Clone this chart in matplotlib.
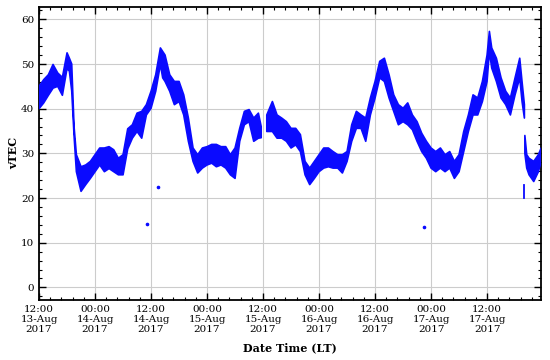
import datetime as dt
import numpy as np
import matplotlib
matplotlib.use("Agg")
import matplotlib.pyplot as plt
import matplotlib.dates as mdates
from matplotlib.ticker import AutoMinorLocator, MultipleLocator

# hours after 13-Aug-2017 12:00 LT, with the band's upper / lower edge
hours = [0, 1, 2, 3, 4, 5, 6, 6.5, 7, 7.5, 8, 9, 10, 11, 12, 13, 14, 15, 16, 17,
         18, 19, 20, 21, 22, 23, 24, 25, 26, 26.5, 27, 28, 29, 30, 31, 32, 33, 34, 35, 36,
         37, 38, 39, 40, 41, 42, 43, 44, 45, 46, 47, 47.6, 47.7, 48.7, 48.8, 50, 51, 52, 53, 54,
         55, 56, 57, 58, 59, 60, 61, 62, 63, 64, 65, 66, 67, 68, 69, 70, 71, 72, 73, 74,
         75, 76, 77, 78, 79, 80, 81, 82, 83, 84, 85, 86, 87, 88, 89, 90, 91, 92, 93, 94,
         95, 96, 96.5, 97, 98, 99, 100, 101, 102, 103, 103.5, 104, 104.05, 104.1, 104.5, 105, 106, 107, 107.6]
vtec_hi = [45, 46.5, 47.6, 49.9, 48, 47, 52.5, 51.3, 50, 36, 29.7, 27, 27.4, 28.2, 29.7, 31.2, 31.2, 31.5, 30.8, 28.9,
           29.7, 35.5, 36.4, 39, 39.4, 40.9, 43.9, 47.6, 53.6, 52.8, 52, 47.6, 46.1, 46.1, 43.1, 37.9, 31.2, 29.7, 31.2, 31.5,
           32, 32, 31.5, 31.5, 29.7, 31.2, 35.6, 39.4, 39.8, 37.9, 39, 36, np.nan, np.nan, 38.6, 41.6, 38.6, 37.9, 37.1, 35.6,
           35.6, 34.2, 28.2, 26.7, 28.2, 29.7, 31.2, 31.2, 30.4, 29.7, 29.7, 30.4, 36.4, 39.4, 38.6, 37.9, 42.4, 46.1, 50.6, 51.3,
           47.6, 43.1, 40.9, 40.1, 41.3, 38.6, 37.1, 34.5, 32.7, 31.2, 30.4, 31.2, 29.7, 30.4, 28.2, 29.7, 34.9, 38.6, 43.1, 42.4,
           46.1, 52, 57.3, 53.6, 51.3, 46.9, 43.9, 42.4, 46.9, 51.3, 46, 40.9, np.nan, 34, 29.7, 28.9, 28.2, 29.7, 31.2]
vtec_lo = [40, 41.3, 43, 44.6, 45, 43, 49, 48.4, 44, 34, 25.9, 21.5, 23, 24.4, 25.9, 27.4, 25.9, 26.6, 25.9, 25.2,
           25.2, 31, 33.4, 34.9, 33.4, 38.6, 40.1, 43.9, 49.9, 46.9, 46.1, 43.9, 40.9, 41.6, 38.6, 32.7, 28.2, 25.6, 26.7, 27.4,
           27.8, 27, 27.4, 26.7, 25.2, 24.4, 32.7, 36.4, 37.1, 32.7, 33.4, 33.5, np.nan, np.nan, 34.9, 34.9, 33.4, 33.4, 32.7, 31.2,
           31.9, 30.4, 25.2, 23, 24.4, 25.9, 26.7, 27, 26.7, 26.7, 25.6, 28.2, 32.7, 35.6, 35.6, 32.7, 38.6, 42.4, 46.9, 46.1,
           42.4, 39.4, 36.4, 37.1, 36.4, 35.3, 32.7, 30.4, 28.9, 26.7, 25.9, 26.7, 25.9, 26.7, 24.4, 25.9, 30.4, 34.9, 38.6, 38.6,
           41.6, 46.1, 52.8, 49.1, 46.1, 42.4, 40.9, 38.6, 43.1, 46.9, 41.6, 37.9, np.nan, 30, 26.7, 25.2, 23.7, 25.9, 28.2]

# stray low samples
outlier_hours = [23.08, 25.57, 82.4]
outlier_vtec = [14.1, 22.4, 13.45]
spike_hours = [103.9, 103.9]
spike_vtec = [20.0, 22.9]

t0 = dt.datetime(2017, 8, 13, 12, 0)
to_time = lambda hs: [t0 + dt.timedelta(hours=h) for h in hs]
t = to_time(hours)

plt.rcParams['font.family'] = 'DejaVu Serif'
plt.rcParams['font.size'] = 7.5

fig = plt.figure(figsize=(5.5, 3.6), dpi=100)
ax = fig.add_axes([0.071, 0.167, 0.913, 0.814])

blue = '#0a0aff'
ax.fill_between(t, vtec_lo, vtec_hi, color=blue, linewidth=1.2, edgecolor=blue, zorder=3)
ax.plot(to_time(outlier_hours), outlier_vtec, 'o', color=blue, ms=1.6, zorder=3)
ax.plot(to_time(spike_hours), spike_vtec, '-', color=blue, lw=1.3, zorder=3)

ax.set_xlim(t0, t0 + dt.timedelta(hours=107.6))
ax.set_ylim(-2.8, 62.8)

ax.xaxis.set_major_locator(mdates.HourLocator(byhour=[0, 12]))
ax.xaxis.set_major_formatter(mdates.DateFormatter('%H:%M\n%d-%b\n%Y'))
ax.xaxis.set_minor_locator(AutoMinorLocator())
ax.yaxis.set_major_locator(MultipleLocator(10))
ax.yaxis.set_minor_locator(AutoMinorLocator())

ax.tick_params(which='both', direction='in', top=True, right=True)
ax.tick_params(which='major', length=5, width=1)
ax.tick_params(which='minor', length=2.5, width=0.8)
ax.tick_params(axis='x', pad=4)
for s in ax.spines.values():
    s.set_linewidth(1.3)

ax.grid(True, which='major', color='#cccccc', linewidth=0.8, zorder=0)
ax.set_axisbelow(True)

for lab in ax.get_xticklabels():
    lab.set_linespacing(1.1)

ax.set_ylabel('vTEC', fontweight='bold', fontsize=8)
ax.yaxis.set_label_coords(-0.04, 0.5)
ax.set_xlabel('Date Time (LT)', fontweight='bold', fontsize=8, labelpad=6)

fig.savefig('out.png', dpi=100)
